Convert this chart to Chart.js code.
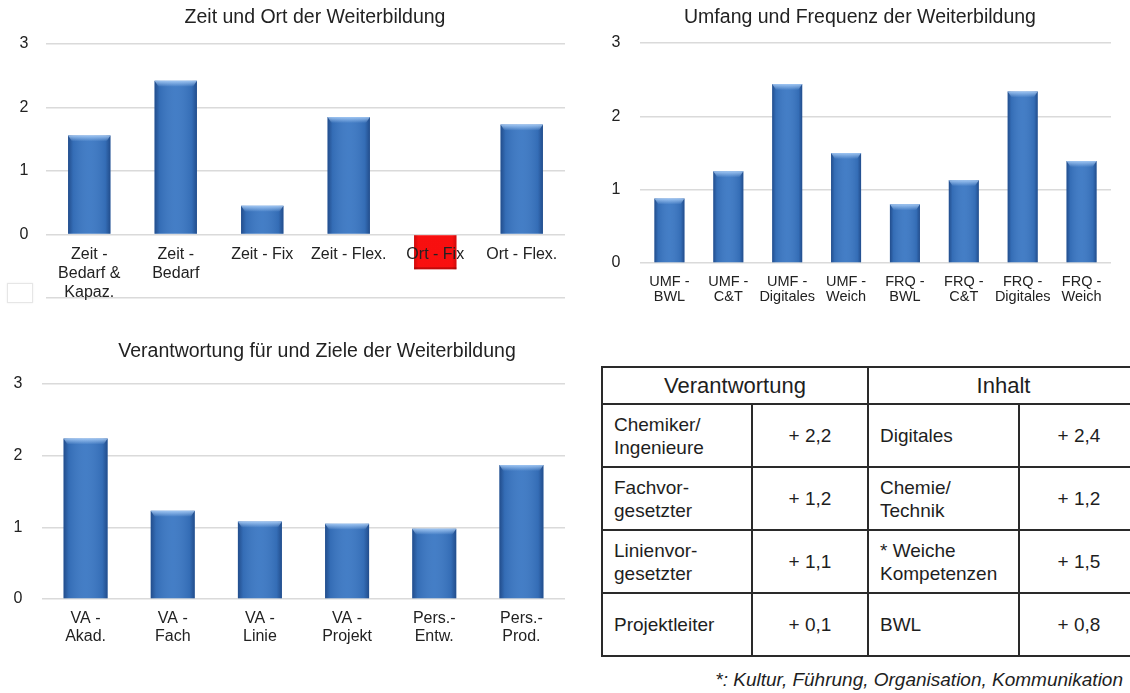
<!DOCTYPE html>
<html><head><meta charset="utf-8">
<script src="https://cdn.jsdelivr.net/npm/chart.js@4.4.0/dist/chart.umd.min.js"></script>
<style>
html,body{margin:0;padding:0;background:#fff;overflow:hidden;width:1130px;height:693px;font-family:"Liberation Sans",Arial,sans-serif;}
canvas{position:absolute;}
#box{position:absolute;left:7px;top:283px;width:24px;height:18px;border:1px solid #e6e6e6;box-shadow:0 0 2px #eee;}
#t{position:absolute;left:601px;top:366px;border-collapse:collapse;table-layout:fixed;width:537px;color:#1e1e1e;font-size:19px;line-height:23px;}
#t td{border:2px solid #2a2a2a;padding:0 0 0 11px;vertical-align:middle;}
#t td.v{text-align:center;padding:0;}
#t tr.h td{text-align:center;font-size:22px;padding:0;height:35px;}
#t tr.r td{height:61px;}
#fn{position:absolute;right:7px;top:668px;font-size:19px;line-height:23px;font-style:italic;color:#1e1e1e;white-space:nowrap;}
</style></head>
<body>
<canvas id="c1" width="580" height="325" style="left:0;top:0"></canvas>
<canvas id="c2" width="555" height="320" style="left:575px;top:0"></canvas>
<canvas id="c3" width="580" height="330" style="left:0;top:330px"></canvas>
<div id="box"></div>
<table id="t">
<colgroup><col style="width:150px"><col style="width:116px"><col style="width:151px"><col style="width:120px"></colgroup>
<tr class="h"><td colspan="2">Verantwortung</td><td colspan="2">Inhalt</td></tr>
<tr class="r"><td>Chemiker/<br>Ingenieure</td><td class="v">+ 2,2</td><td>Digitales</td><td class="v">+ 2,4</td></tr>
<tr class="r"><td>Fachvor-<br>gesetzter</td><td class="v">+ 1,2</td><td>Chemie/<br>Technik</td><td class="v">+ 1,2</td></tr>
<tr class="r"><td>Linienvor-<br>gesetzter</td><td class="v">+ 1,1</td><td>* Weiche<br>Kompetenzen</td><td class="v">+ 1,5</td></tr>
<tr class="r"><td>Projektleiter</td><td class="v">+ 0,1</td><td>BWL</td><td class="v">+ 0,8</td></tr>
</table>
<div id="fn">*: Kultur, Führung, Organisation, Kommunikation</div>
<script>
// ---- data ----
const zeitTitle = 'Zeit und Ort der Weiterbildung';
const zeitCats = [['Zeit -','Bedarf &','Kapaz.'], ['Zeit -','Bedarf'], 'Zeit - Fix', 'Zeit - Flex.', 'Ort - Fix', 'Ort - Flex.'];
const zeitVals = [1.56, 2.42, 0.45, 1.85, -0.55, 1.73];

const umfTitle = 'Umfang und Frequenz der Weiterbildung';
const umfCats = [['UMF -','BWL'], ['UMF -','C&T'], ['UMF -','Digitales'], ['UMF -','Weich'], ['FRQ -','BWL'], ['FRQ -','C&T'], ['FRQ -','Digitales'], ['FRQ -','Weich']];
const umfVals = [0.88, 1.25, 2.44, 1.50, 0.80, 1.13, 2.34, 1.39];

const vaTitle = 'Verantwortung für und Ziele der Weiterbildung';
const vaCats = [['VA -','Akad.'], ['VA -','Fach'], ['VA -','Linie'], ['VA -','Projekt'], ['Pers.-','Entw.'], ['Pers.-','Prod.']];
const vaVals = [2.24, 1.23, 1.08, 1.05, 0.98, 1.87];

const yTicks = [0, 1, 2, 3];

// ---- plugins ----
const FONT = '"Liberation Sans", Arial, sans-serif';
const TXT = '#222222';

const absTitle = {
  id: 'absTitle',
  afterDraw(chart, args, o) {
    const ctx = chart.ctx;
    ctx.save();
    ctx.font = o.size + 'px ' + FONT;
    ctx.fillStyle = TXT;
    ctx.textAlign = 'center';
    ctx.textBaseline = 'middle';
    ctx.fillText(o.text, o.x, o.y);
    ctx.restore();
  }
};

const bevel = {
  id: 'bevel',
  afterDatasetsDraw(chart) {
    const ctx = chart.ctx;
    chart.getSortedVisibleDatasetMetas().forEach(meta => {
      meta.data.forEach(bar => {
        const p = bar.getProps(['x', 'y', 'base', 'width'], true);
        const l = p.x - p.width / 2, r = p.x + p.width / 2;
        const top = Math.min(p.y, p.base), bot = Math.max(p.y, p.base);
        const neg = p.y > p.base;
        ctx.save();
        const g = ctx.createLinearGradient(l, 0, r, 0);
        if (neg) {
          g.addColorStop(0, 'rgba(120,0,0,0.35)');
          g.addColorStop(0.1, 'rgba(120,0,0,0.05)');
          g.addColorStop(0.9, 'rgba(120,0,0,0.05)');
          g.addColorStop(1, 'rgba(120,0,0,0.35)');
        } else {
          g.addColorStop(0, 'rgba(10,35,85,0.50)');
          g.addColorStop(0.12, 'rgba(10,35,85,0.12)');
          g.addColorStop(0.5, 'rgba(255,255,255,0.05)');
          g.addColorStop(0.88, 'rgba(10,35,85,0.12)');
          g.addColorStop(1, 'rgba(10,35,85,0.50)');
        }
        ctx.fillStyle = g;
        ctx.fillRect(l, top, r - l, bot - top);
        if (!neg) {
          const h = Math.min(6, bot - top);
          const g2 = ctx.createLinearGradient(0, top, 0, top + h);
          g2.addColorStop(0, 'rgba(175,210,250,0.85)');
          g2.addColorStop(1, 'rgba(175,210,250,0)');
          ctx.fillStyle = g2;
          ctx.beginPath();
          ctx.moveTo(l, top); ctx.lineTo(r, top); ctx.lineTo(r - 4, top + h); ctx.lineTo(l + 4, top + h);
          ctx.closePath(); ctx.fill();
        } else {
          ctx.fillStyle = 'rgba(90,0,0,0.35)';
          ctx.fillRect(l, bot - 2, r - l, 2);
        }
        ctx.restore();
      });
    });
  }
};

function makeChart(id, cats, vals, o) {
  return new Chart(document.getElementById(id), {
    type: 'bar',
    data: {
      labels: cats,
      datasets: [{
        data: vals,
        backgroundColor: c => (c.raw < 0 ? '#ff1010' : '#3a77c3'),
        borderWidth: 0,
        barPercentage: o.bar,
        categoryPercentage: 1
      }]
    },
    plugins: [bevel, absTitle],
    options: {
      responsive: false,
      maintainAspectRatio: false,
      animation: false,
      layout: { padding: o.padding },
      plugins: {
        legend: { display: false },
        tooltip: { enabled: false },
        absTitle: { text: o.title, x: o.tx, y: o.ty, size: 19.5 }
      },
      scales: {
        x: {
          position: { y: 0 },
          grid: { display: false, drawTicks: false },
          border: { display: false },
          ticks: {
            z: 1, color: TXT, autoSkip: false, maxRotation: 0, padding: o.xPad,
            font: { family: FONT, size: o.xFont, lineHeight: o.xLine }
          }
        },
        y: {
          min: o.min, max: 3,
          afterFit(s) { s.width = o.yW; },
          grid: { color: '#dadada', lineWidth: 1.5, drawTicks: false },
          border: { display: false },
          afterBuildTicks(s) { s.ticks = (o.min < 0 ? [o.min] : []).concat(yTicks).map(v => ({ value: v })); },
          ticks: {
            stepSize: 1, padding: o.yPad, color: TXT,
            font: { family: FONT, size: 16 },
            callback: v => (v < 0 ? '' : String(v))
          }
        }
      }
    }
  });
}

makeChart('c1', zeitCats, zeitVals, {
  title: zeitTitle, tx: 315, ty: 18,
  padding: { top: 44, bottom: 13, left: 0, right: 15 },
  yW: 46, yPad: 17.5, xPad: 10.5, xFont: 16, xLine: 19 / 16, min: -1, bar: 0.49
});
makeChart('c2', umfCats, umfVals, {
  title: umfTitle, tx: 285, ty: 18,
  padding: { top: 43, bottom: 57, left: 0, right: 19 },
  yW: 65, yPad: 19.5, xPad: 11.5, xFont: 14.5, xLine: 15 / 14.5, min: 0, bar: 0.51
});
makeChart('c3', vaCats, vaVals, {
  title: vaTitle, tx: 317, ty: 22,
  padding: { top: 54, bottom: 61, left: 0, right: 15 },
  yW: 42, yPad: 19.5, xPad: 11, xFont: 16, xLine: 18 / 16, min: 0, bar: 0.505
});
</script>
</body></html>
